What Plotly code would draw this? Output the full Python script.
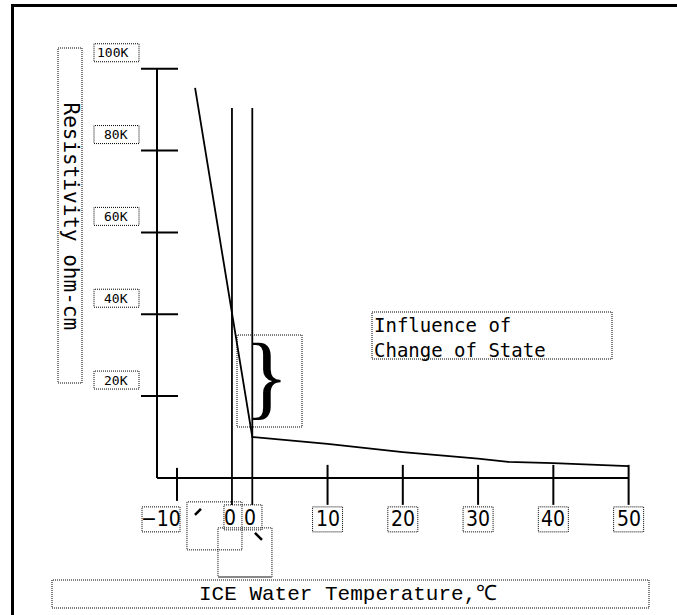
import plotly.graph_objects as go

# ---------------- data ----------------
TEMP_C = [-7.6, 0, 10, 20, 30, 34, 40, 47, 50]
RESIST_K = [95.3, 10.0, 8.3, 6.3, 4.7, 3.9, 3.6, 3.0, 2.9]

X_TICKS = [-10, 10, 20, 30, 40, 50]
X_TICK_LABELS = ["\u221210", "10", "20", "30", "40", "50"]
Y_TICKS = [20, 40, 60, 80, 100]
Y_TICK_LABELS = ["20K", "40K", "60K", "80K", "100K"]
STATE_LINES = [-2.7, 0]      # ice at 0 / water at 0
STATE_LABELS = ["0", "0"]

X_AXIS_START = -12.66
X_AXIS_END = 50
Y_AXIS_END = 100

X_TITLE = "ICE Water Temperature,\u2103"
Y_TITLE = "Resistivity ohm-cm"
NOTE = "Influence of<br>Change of State"
BRACE = "}"

# ---------------- layout constants ----------------
W, H = 677, 615
X_RANGE = [-33.52, 56.43]
Y_RANGE = [-33.51, 116.8]
MONO = "DejaVu Sans Mono"
NARROW = "Liberation Sans Narrow, DejaVu Sans Condensed, DejaVu Sans Mono"
DOT = "1px,1px"


def px(x):
    return x / W


def py(y):
    return 1 - y / H


fig = go.Figure()
fig.add_trace(go.Scatter(x=TEMP_C, y=RESIST_K, mode="lines",
                         line=dict(color="black", width=1.8),
                         cliponaxis=False, hoverinfo="skip", showlegend=False))

shapes = []
ann = []

# frame (top + left)
shapes.append(dict(type="line", xref="paper", yref="paper", x0=px(11), x1=px(W + 2),
                   y0=py(5.5), y1=py(5.5), line=dict(color="black", width=3)))
shapes.append(dict(type="line", xref="paper", yref="paper", x0=px(12.5), x1=px(12.5),
                   y0=py(4), y1=py(H + 2), line=dict(color="black", width=3)))

# axes
shapes.append(dict(type="line", xref="x", yref="y", x0=X_AXIS_START, x1=X_AXIS_END,
                   y0=0, y1=0, line=dict(color="black", width=2)))
shapes.append(dict(type="line", xref="x", yref="y", x0=X_AXIS_START, x1=X_AXIS_START,
                   y0=0, y1=Y_AXIS_END, line=dict(color="black", width=2)))

# y ticks, labels, dotted boxes
for v, lab in zip(Y_TICKS, Y_TICK_LABELS):
    shapes.append(dict(type="line", xref="x", xsizemode="pixel", xanchor=X_AXIS_START,
                       x0=-16, x1=21, yref="y", y0=v, y1=v,
                       line=dict(color="black", width=2)))
    shapes.append(dict(type="rect", xref="x", xsizemode="pixel", xanchor=X_AXIS_START,
                       x0=-63, x1=-18, yref="y", ysizemode="pixel", yanchor=v,
                       y0=7, y1=25, line=dict(color="black", width=1, dash=DOT)))
    ann.append(dict(x=X_AXIS_START, y=v, xref="x", yref="y", xshift=-27, yshift=16,
                    xanchor="right", yanchor="middle", showarrow=False, text=lab,
                    font=dict(family=MONO, size=13, color="black")))

# x ticks, labels, dotted boxes
for v, lab in zip(X_TICKS, X_TICK_LABELS):
    short = lab.startswith("\u2212")
    shapes.append(dict(type="line", xref="x", x0=v, x1=v, yref="y", ysizemode="pixel",
                       yanchor=0, y0=-23 if short else -27, y1=10 if short else 13,
                       line=dict(color="black", width=2)))
    sh = -16 if short else 0
    half = 19 if short else 15
    shapes.append(dict(type="rect", xref="x", xsizemode="pixel", xanchor=v,
                       x0=sh - half, x1=sh + half, yref="y", ysizemode="pixel",
                       yanchor=0, y0=-54, y1=-29,
                       line=dict(color="black", width=1, dash=DOT)))
    ann.append(dict(x=v, y=0, xref="x", yref="y", xshift=sh, yshift=-41.5,
                    xanchor="center", yanchor="middle", showarrow=False, text=lab,
                    font=dict(family=NARROW, size=21, color="black")))

# change-of-state vertical lines and their labels
for v, lab in zip(STATE_LINES, STATE_LABELS):
    shapes.append(dict(type="line", xref="x", x0=v, x1=v, yref="y", y0=-6.6, y1=90.4,
                       line=dict(color="black", width=1.8)))
    ann.append(dict(x=v, y=0, xref="x", yref="y", xshift=-2, yshift=-40,
                    xanchor="center", yanchor="middle", showarrow=False, text=lab,
                    font=dict(family=NARROW, size=21, color="black")))

ice = STATE_LINES[0]
for (a0, a1, b0, b1) in [(-45, 10, -72, -24), (-8, 30, -52, -27), (-14, 40, -99, -50)]:
    shapes.append(dict(type="rect", xref="x", xsizemode="pixel", xanchor=ice,
                       x0=a0, x1=a1, yref="y", ysizemode="pixel", yanchor=0,
                       y0=b0, y1=b1, line=dict(color="black", width=1, dash=DOT)))
shapes.append(dict(type="line", xref="x", xsizemode="pixel", xanchor=ice, x0=-14, x1=40,
                   yref="y", ysizemode="pixel", yanchor=0, y0=-99, y1=-99,
                   line=dict(color="#888", width=2)))
for (a0, a1, b0, b1) in [(-37, -31, -37, -31), (23, 30, -55, -62)]:
    shapes.append(dict(type="line", xref="x", xsizemode="pixel", xanchor=ice,
                       x0=a0, x1=a1, yref="y", ysizemode="pixel", yanchor=0,
                       y0=b0, y1=b1, line=dict(color="black", width=2.5)))

# y title
shapes.append(dict(type="rect", xref="paper", yref="paper", x0=px(58), x1=px(82),
                   y0=py(383), y1=py(48), line=dict(color="black", width=1, dash=DOT)))
ann.append(dict(x=px(70.5), y=py(216), xref="paper", yref="paper", showarrow=False,
                text=Y_TITLE, textangle=90, xanchor="center", yanchor="middle",
                font=dict(family=MONO, size=21, color="black")))

# x title
shapes.append(dict(type="rect", xref="paper", yref="paper", x0=px(52), x1=px(649),
                   y0=py(608), y1=py(580), line=dict(color="black", width=1, dash=DOT)))
ann.append(dict(x=px(348), y=py(594), xref="paper", yref="paper", showarrow=False,
                text=X_TITLE, xanchor="center", yanchor="middle",
                font=dict(family="Liberation Mono", size=21, color="black")))

# note
shapes.append(dict(type="rect", xref="paper", yref="paper", x0=px(372), x1=px(612),
                   y0=py(359), y1=py(312), line=dict(color="black", width=1, dash=DOT)))
ann.append(dict(x=px(372), y=py(312), xref="paper", yref="paper", showarrow=False,
                text=NOTE, xanchor="left", yanchor="top", align="left",
                font=dict(family=MONO, size=19, color="black")))

# brace
shapes.append(dict(type="rect", xref="paper", yref="paper", x0=px(237), x1=px(302),
                   y0=py(427), y1=py(335), line=dict(color="black", width=1, dash=DOT)))
ann.append(dict(x=px(266), y=py(376), xref="paper", yref="paper", showarrow=False,
                text=BRACE, xanchor="center", yanchor="middle",
                font=dict(family="Liberation Serif", size=94, color="black")))

fig.update_layout(
    width=W, height=H, margin=dict(l=0, r=0, t=0, b=0),
    paper_bgcolor="white", plot_bgcolor="white",
    xaxis=dict(range=X_RANGE, domain=[0, 1], visible=False, fixedrange=True),
    yaxis=dict(range=Y_RANGE, domain=[0, 1], visible=False, fixedrange=True),
    shapes=shapes, annotations=ann, showlegend=False,
)

fig.write_html("out.html", config={"displayModeBar": False},
               post_script="document.body.style.margin='0';document.body.style.overflow='hidden';")
